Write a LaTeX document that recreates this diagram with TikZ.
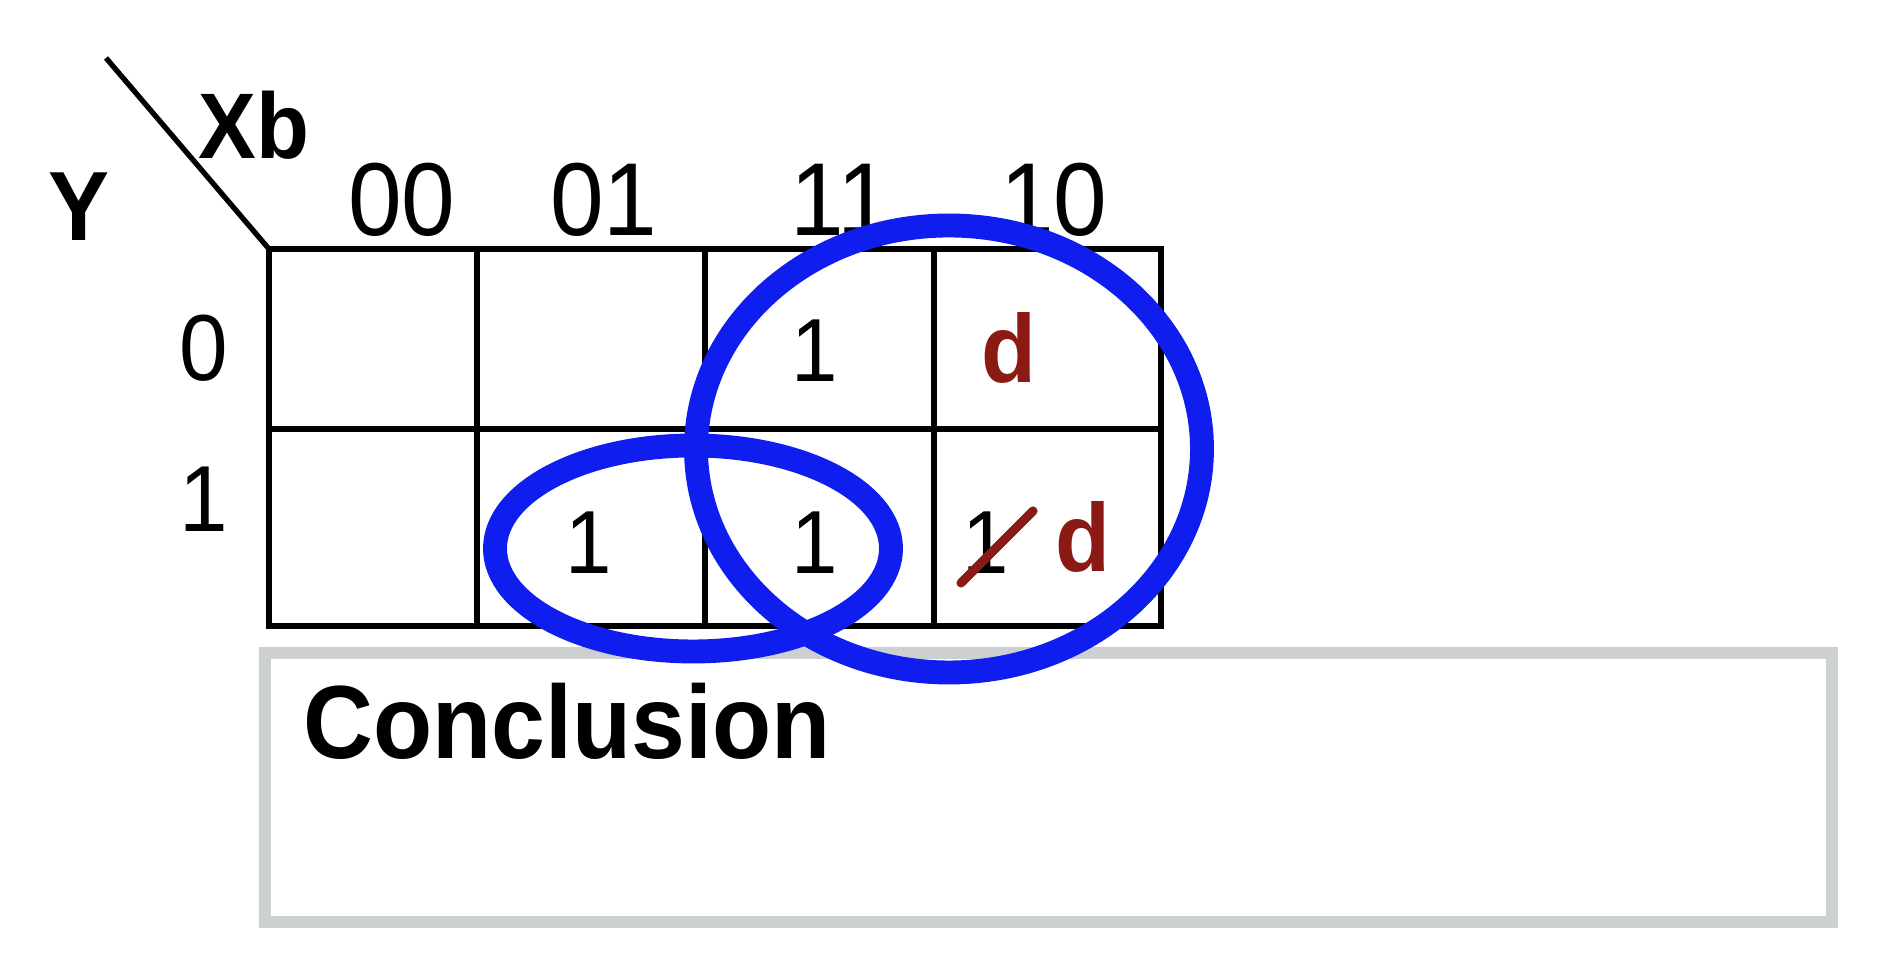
\documentclass[tikz,border=0pt]{standalone}
\usepackage{fontspec}
\setmainfont{Liberation Sans}[FakeStretch=0.93]
\usepackage{tikz}
\usetikzlibrary{positioning,calc}
\usepackage{xcolor}
\definecolor{penBlue}{HTML}{0F1EEE}
\definecolor{dontRed}{HTML}{8C1A14}
\definecolor{boxGrey}{HTML}{CDD0D1}

\tikzset{
  kcell/.style={inner sep=0pt,font=\fontsize{25.5}{27}\selectfont},
  kdc/.style={inner sep=0pt,text=dontRed,font=\fontsize{27.5}{29}\selectfont\bfseries},
  klabel/.style={inner sep=0pt,font=\fontsize{29.5}{31}\selectfont},
  rlabel/.style={inner sep=0pt,font=\fontsize{26.7}{28}\selectfont},
  gridline/.style={line width=1.5pt},
  loop/.style={draw=penBlue,line width=6.8pt}
}

\begin{document}
\begin{tikzpicture}
\useasboundingbox (0,0) rectangle (18.84,9.76);
% conclusion box
\draw[boxGrey,line width=3.4pt] (2.65,0.54) rectangle (18.32,3.23);
\node[anchor=base west,inner sep=0pt,font=\fontsize{29.6}{31}\selectfont\bfseries] (concl) at (3.03,2.17) {Conclusion};

% map grid
\draw[gridline] (2.69,3.50) rectangle (11.61,7.27);
\draw[gridline] (2.69,5.47) -- (11.61,5.47);
\foreach \x in {4.77,7.05,9.34}{
  \draw[gridline] (\x,3.50) -- (\x,7.27);
}
\draw[gridline] (1.06,9.18) -- (2.69,7.27);
\node[inner sep=0pt,font=\fontsize{28}{30}\selectfont\bfseries] (yvar) at (0.79,7.69) {Y};
\node[inner sep=0pt,font=\fontsize{26.5}{28}\selectfont\bfseries] (xbvar) at (2.54,8.51) {Xb};

\foreach \lab/\x in {00/4.02,01/6.04,11/8.41,10/10.54}{
  \node[klabel] (col\lab) at (\x,7.765) {\lab};
}
\node[rlabel] (row0) at (2.04,6.28) {0};
\node[rlabel] (row1) at (2.04,4.77) {1};

% entries
\node[kcell] (m3) at (8.15,6.25) {1};
\node[kdc] (m2) at (10.09,6.28) {d};
\node[kcell] (m5) at (5.89,4.33) {1};
\node[kcell] (m7) at (8.15,4.33) {1};
\node[kcell] (m6old) at (9.86,4.33) {1};
\node[kdc] (m6) at (10.83,4.39) {d};
\draw[dontRed,line width=2.6pt,line cap=round] (9.61,3.93) -- (10.33,4.65);

% groups
\draw[loop] (9.49,5.27) ellipse (2.53 and 2.235);
\draw[loop] (6.93,4.275) ellipse (1.98 and 1.03);
\end{tikzpicture}
\end{document}
